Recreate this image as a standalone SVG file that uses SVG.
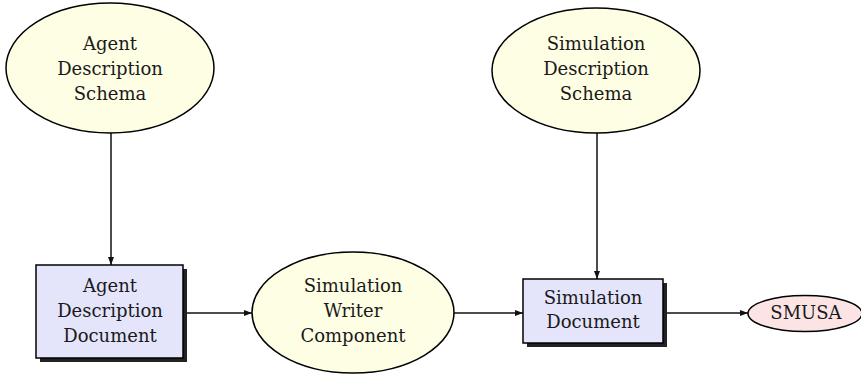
<svg xmlns="http://www.w3.org/2000/svg" width="861" height="376" viewBox="0 0 861 376">
<defs>
<style>
.ell{fill:#fefee4;stroke:#000;stroke-width:1.5}
.box{fill:#e4e4fb;stroke:#000;stroke-width:1.5}
.shadow{fill:#222}
.term{fill:#fde4e4;stroke:#000;stroke-width:1.5}
.t{font-family:"DejaVu Serif","Liberation Serif",serif;font-size:18px;fill:#1a1a1a;text-anchor:middle}
.edge{stroke:#111;stroke-width:1.5;fill:none;marker-end:url(#arr)}
</style>
<marker id="arr" markerUnits="userSpaceOnUse" markerWidth="9" markerHeight="8" refX="8" refY="4" orient="auto">
<path d="M0,1 L8,4 L0,7 Z" fill="#111"/>
</marker>
</defs>
<rect width="861" height="376" fill="#fff"/>
<g id="connectors">
<line class="edge" x1="111" y1="133" x2="111" y2="265"/>
<line class="edge" x1="184" y1="313" x2="252" y2="313"/>
<line class="edge" x1="454" y1="313" x2="523" y2="313"/>
<line class="edge" x1="597" y1="133" x2="597" y2="279"/>
<line class="edge" x1="664" y1="313" x2="748" y2="313"/>
</g>
<g id="agent-description-schema">
<ellipse class="ell" cx="110" cy="68" rx="104" ry="65"/>
<text class="t" x="110" y="50">Agent</text>
<text class="t" x="110" y="75">Description</text>
<text class="t" x="110" y="100">Schema</text>
</g>
<g id="simulation-description-schema">
<ellipse class="ell" cx="596" cy="70.5" rx="104" ry="62.5"/>
<text class="t" x="596" y="50">Simulation</text>
<text class="t" x="596" y="75">Description</text>
<text class="t" x="596" y="100">Schema</text>
</g>
<g id="agent-description-document">
<rect class="shadow" x="40" y="269" width="147" height="93"/>
<rect class="box" x="36" y="265" width="147" height="93"/>
<text class="t" x="110" y="292">Agent</text>
<text class="t" x="110" y="317">Description</text>
<text class="t" x="110" y="342">Document</text>
</g>
<g id="simulation-writer-component">
<ellipse class="ell" cx="353" cy="312.5" rx="101" ry="60.5"/>
<text class="t" x="353" y="292">Simulation</text>
<text class="t" x="353" y="317">Writer</text>
<text class="t" x="353" y="342">Component</text>
</g>
<g id="simulation-document">
<rect class="shadow" x="527" y="283" width="140" height="64"/>
<rect class="box" x="523" y="279" width="140" height="64"/>
<text class="t" x="593" y="304">Simulation</text>
<text class="t" x="593" y="328">Document</text>
</g>
<g id="smusa">
<ellipse class="term" cx="805" cy="313.5" rx="57" ry="18"/>
<text class="t" x="806" y="319">SMUSA</text>
</g>
</svg>
